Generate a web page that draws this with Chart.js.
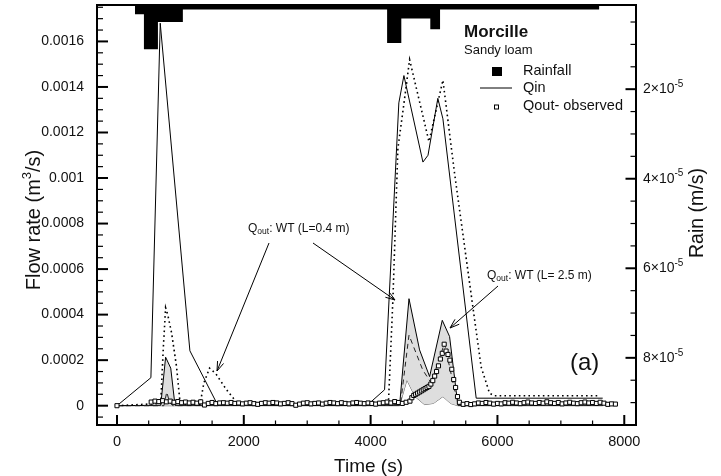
<!DOCTYPE html>
<html>
<head>
<meta charset="utf-8">
<script src="https://cdn.jsdelivr.net/npm/chart.js@4.4.1/dist/chart.umd.min.js"></script>
<style>
  html, body { margin: 0; padding: 0; background: #fff; }
  #wrap { width: 721px; height: 476px; }
</style>
</head>
<body>
<div id="wrap"><canvas id="flowChart" width="721" height="476"></canvas></div>
<script>
// rainfall steps (time of step start, rain in m/s)
const rainT = [283, 425, 646, 1039, 4260, 4484, 4941, 5095, 7607];
const rainV = [3.28e-6, 1.11e-5, 4.99e-6, 2.23e-6, 9.68e-6, 4.24e-6, 6.62e-6, 2.23e-6, 2.23e-6];

// Qin (solid)
const qinT = [0, 535, 682, 1150, 1585, 2500, 3950, 4220, 4445, 4525, 4825, 4905, 5060, 5140, 5665, 7660];
const qinV = [0, 1.23e-4, 1.68e-3, 2.41e-4, 5e-6, 3e-6, 3e-6, 7.0e-5, 1.33e-3, 1.45e-3, 1.07e-3, 1.10e-3, 1.35e-3, 1.26e-3, 3.3e-5, 3.3e-5];

// Qout WT L=0.4 m (dotted)
const wt04T = [0, 690, 729, 767, 800, 861, 940, 992, 1050, 1310, 1370, 1460, 1560, 1727, 1900, 2000, 4280, 4352, 4430, 4536, 4615, 4920, 5140, 5324, 5560, 5743, 5875, 5950, 7620];
const wt04V = [0, 1e-5, 2.45e-4, 4.3e-4, 4.0e-4, 3.2e-4, 1.7e-4, 2e-5, 5e-6, 5e-6, 1.0e-4, 1.65e-4, 1.4e-4, 7e-5, 1e-5, 5e-6, 5e-6, 4.7e-4, 1.13e-3, 1.35e-3, 1.52e-3, 1.16e-3, 1.43e-3, 1.02e-3, 5.4e-4, 1.7e-4, 5.5e-5, 4.4e-5, 4.4e-5];

// Qout WT L=2.5 m band: upper edge, lower edge, dashed middle
const wt25T = [0, 690, 767, 848, 915, 4457, 4605, 4772, 4930, 5130, 5245, 5376, 7660];
const wt25V = [0, 2e-6, 2.13e-4, 1.65e-4, 2e-6, 2e-6, 4.7e-4, 2.45e-4, 1.28e-4, 3.75e-4, 3.04e-4, 2e-6, 2e-6];
const wtLowT = [0, 4457, 4572, 4700, 4850, 4990, 5140, 5260, 5376, 7660];
const wtLowV = [0, 0, 1.13e-4, 4e-5, 5e-6, 1e-5, 4e-5, 1e-5, 0, 0];
const wtDashT = [0, 740, 785, 830, 880, 4470, 4605, 4822, 4955, 5165, 5323, 5400, 7660];
const wtDashV = [0, 0, 6e-5, 1.5e-5, 0, 5e-6, 3.1e-4, 1.57e-4, 1.0e-4, 2.74e-4, 7e-5, 2e-6, 2e-6];

// Qout observed (squares)
const obsT = [0, 540, 600, 660, 720, 780, 840, 900, 960, 1020, 1080, 1140, 1200, 1260, 1320, 1380, 1440, 1500, 1560, 1620,
  1680, 1740, 1800, 1860, 1920, 1980, 2040, 2100, 2160, 2220, 2280, 2340, 2400, 2460, 2520, 2580, 2640, 2700, 2760, 2820,
  2880, 2940, 3000, 3060, 3120, 3180, 3240, 3300, 3360, 3420, 3480, 3540, 3600, 3660, 3720, 3780, 3840, 3900, 3960, 4020,
  4080, 4140, 4200, 4260, 4320, 4380, 4440, 4500, 4560, 4620, 4650, 4680, 4710, 4740, 4770, 4800, 4830, 4860, 4890, 4920,
  4950, 4980, 5010, 5040, 5070, 5100, 5130, 5160, 5190, 5220, 5250, 5280, 5310, 5340, 5370, 5400, 5460, 5520, 5580, 5640,
  5700, 5760, 5820, 5880, 5940, 6000, 6060, 6120, 6180, 6240, 6300, 6360, 6420, 6480, 6540, 6600, 6660, 6720, 6780, 6840,
  6900, 6960, 7020, 7080, 7140, 7200, 7260, 7320, 7380, 7440, 7500, 7560, 7620, 7680, 7740, 7800, 7860];
const obsQ = [0, 1.6e-5, 2.0e-5, 1.8e-5, 2.2e-5, 1.7e-5, 2.0e-5, 1.5e-5, 1.8e-5, 1.3e-5, 1.6e-5, 1.2e-5, 1.5e-5, 1.1e-5, 1.7e-5, 0.3e-5, 1.0e-5, 1.4e-5, 0.9e-5, 1.2e-5,
  1.3e-5, 1.1e-5, 1.4e-5, 1.0e-5, 1.2e-5, 0.8e-5, 1.1e-5, 1.3e-5, 0.9e-5, 0.6e-5, 1.0e-5, 1.3e-5, 1.1e-5, 1.4e-5, 1.2e-5, 0.8e-5, 1.0e-5, 1.3e-5, 0.9e-5, 0.2e-5,
  0.7e-5, 1.1e-5, 1.3e-5, 0.8e-5, 1.0e-5, 1.2e-5, 0.7e-5, 1.1e-5, 1.4e-5, 1.2e-5, 0.9e-5, 1.3e-5, 1.0e-5, 0.8e-5, 1.2e-5, 1.4e-5, 1.1e-5, 0.9e-5, 1.2e-5, 1.0e-5,
  0.7e-5, 1.1e-5, 1.3e-5, 1.6e-5, 1.2e-5, 1.8e-5, 1.4e-5, 1.0e-5, 1.5e-5, 2.0e-5, 3.5e-5, 4.5e-5, 5.0e-5, 5.5e-5, 6.0e-5, 6.5e-5, 7.0e-5, 7.5e-5, 8.0e-5, 8.5e-5,
  9.5e-5, 1.1e-4, 1.3e-4, 1.5e-4, 1.75e-4, 2.05e-4, 2.3e-4, 2.7e-4, 2.4e-4, 2.25e-4, 2.0e-4, 1.6e-4, 1.15e-4, 8.0e-5, 4.0e-5, 1.5e-5, 0.6e-5, 0.9e-5, 0.5e-5, 0.8e-5,
  1.2e-5, 1.0e-5, 1.4e-5, 1.1e-5, 0.7e-5, 1.0e-5, 0.8e-5, 1.3e-5, 1.1e-5, 1.5e-5, 1.2e-5, 0.9e-5, 1.3e-5, 1.6e-5, 1.2e-5, 1.0e-5, 1.4e-5, 1.1e-5, 1.7e-5, 1.3e-5,
  1.0e-5, 1.4e-5, 0.8e-5, 1.2e-5, 1.5e-5, 1.1e-5, 0.9e-5, 1.3e-5, 1.6e-5, 1.2e-5, 1.4e-5, 1.0e-5, 1.5e-5, 1.1e-5, 0.6e-5, 0.8e-5, 0.7e-5];

// axis ticks
const xTicks = [0, 2000, 4000, 6000, 8000];
const yTicks = [0, 0.0002, 0.0004, 0.0006, 0.0008, 0.001, 0.0012, 0.0014, 0.0016];
const rainTicks = [2e-5, 4e-5, 6e-5, 8e-5];
const rainTickLabels = ['2', '4', '6', '8'];

const FONT = 'Liberation Sans, Arial, Helvetica, sans-serif';
const INK = '#111';

function pts(ts, vs) {
     return ts.map((t, i) => ({ x: t, y: vs[i] }));
}

// draw text pieces one after the other (for sub/superscripts)
function richWidth(ctx, parts) {
     let w = 0;
     parts.forEach(p => {
          ctx.font = `${p.bold ? 'bold ' : ''}${p.size}px ${FONT}`;
          w += ctx.measureText(p.text).width;
     });
     return w;
}

function drawRich(ctx, parts, x, y) {
     ctx.textBaseline = 'middle';
     ctx.textAlign = 'left';
     parts.forEach(p => {
          ctx.font = `${p.bold ? 'bold ' : ''}${p.size}px ${FONT}`;
          ctx.fillText(p.text, x, y + (p.dy || 0));
          x += ctx.measureText(p.text).width;
     });
}

function drawArrow(ctx, x1, y1, x2, y2) {
     const a = Math.atan2(y2 - y1, x2 - x1);
     const len = 10;
     ctx.beginPath();
     ctx.moveTo(x1, y1);
     ctx.lineTo(x2, y2);
     ctx.moveTo(x2 - len * Math.cos(a - 0.33), y2 - len * Math.sin(a - 0.33));
     ctx.lineTo(x2, y2);
     ctx.lineTo(x2 - len * Math.cos(a + 0.33), y2 - len * Math.sin(a + 0.33));
     ctx.stroke();
}

// keep the plot box where the reference has it
function noPad(s) {
     s.paddingTop = 0;
     s.paddingBottom = 0;
     s.paddingLeft = 0;
     s.paddingRight = 0;
}

const decorPlugin = {
     id: 'decor',
     afterDraw(chart) {
          const ctx = chart.ctx;
          const area = chart.chartArea;
          const sx = chart.scales.x, sy = chart.scales.y, sr = chart.scales.yR;
          ctx.save();
          ctx.strokeStyle = '#000';
          ctx.fillStyle = INK;

          // frame
          ctx.lineWidth = 2;
          ctx.strokeRect(area.left, area.top, area.right - area.left, area.bottom - area.top);

          // inward ticks
          function tick(x1, y1, x2, y2, w) {
               ctx.lineWidth = w;
               ctx.beginPath();
               ctx.moveTo(x1, y1);
               ctx.lineTo(x2, y2);
               ctx.stroke();
          }
          for (let t = 0; t <= 8000; t += 500) {
               const px = sx.getPixelForValue(t);
               const major = t % 2000 === 0;
               tick(px, area.bottom, px, area.bottom - (major ? 10 : 4.5), major ? 2 : 1.2);
          }
          for (let k = -1; k <= 35; k++) {
               const py = sy.getPixelForValue(k * 0.00005);
               if (py < area.top + 1 || py > area.bottom - 1) continue;
               const major = k % 4 === 0 && k >= 0;
               tick(area.left, py, area.left + (major ? 11 : 6), py, major ? 2 : 1.2);
          }
          for (let k = 1; k <= 19; k++) {
               const py = sr.getPixelForValue(k * 5e-6);
               if (py < area.top + 1 || py > area.bottom - 1) continue;
               const major = k % 4 === 0;
               tick(area.right, py, area.right - (major ? 10.5 : 5.5), py, major ? 2 : 1.2);
          }

          // right axis labels  n×10^-5
          rainTicks.forEach((v, i) => {
               const py = sr.getPixelForValue(v);
               drawRich(ctx, [
                    { text: rainTickLabels[i] + '\u00d710', size: 14 },
                    { text: '-5', size: 10, dy: -5 }
               ], area.right + 7, py);
          });

          // axis titles
          ctx.textAlign = 'center';
          ctx.textBaseline = 'middle';
          ctx.font = `19px ${FONT}`;
          ctx.fillText('Time (s)', (area.left + area.right) / 2 + 2, 467);

          const flowParts = [
               { text: 'Flow rate (m', size: 20 },
               { text: '3', size: 13, dy: -7 },
               { text: '/s)', size: 20 }
          ];
          ctx.save();
          ctx.translate(34, 220);
          ctx.rotate(-Math.PI / 2);
          drawRich(ctx, flowParts, -richWidth(ctx, flowParts) / 2, 0);
          ctx.restore();

          ctx.save();
          ctx.translate(698, 213);
          ctx.rotate(-Math.PI / 2);
          ctx.textAlign = 'center';
          ctx.textBaseline = 'middle';
          ctx.font = `19.5px ${FONT}`;
          ctx.fillText('Rain (m/s)', 0, 0);
          ctx.restore();

          // title and legend
          drawRich(ctx, [{ text: 'Morcille', size: 17, bold: true }], 464, 32);
          drawRich(ctx, [{ text: 'Sandy loam', size: 13 }], 464, 50);
          ctx.fillStyle = '#000';
          ctx.fillRect(492, 67, 10, 9);
          ctx.fillStyle = INK;
          drawRich(ctx, [{ text: 'Rainfall', size: 14.5 }], 523, 71);
          tick(480, 88, 512, 88, 1);
          drawRich(ctx, [{ text: 'Qin', size: 14.5 }], 523, 88);
          ctx.lineWidth = 1;
          ctx.strokeRect(494.5, 105, 4, 4);
          drawRich(ctx, [{ text: 'Qout- observed', size: 14.5 }], 523, 106);

          // annotations
          drawRich(ctx, [
               { text: 'Q', size: 12 },
               { text: 'out', size: 8.5, dy: 3 },
               { text: ': WT (L=0.4 m)', size: 12 }
          ], 248, 229);
          ctx.lineWidth = 1;
          drawArrow(ctx, 269, 243, 217, 371);
          drawArrow(ctx, 313, 243, 395, 300);

          drawRich(ctx, [
               { text: 'Q', size: 12 },
               { text: 'out', size: 8.5, dy: 3 },
               { text: ': WT (L= 2.5 m)', size: 12 }
          ], 487, 276);
          drawArrow(ctx, 498, 286, 450, 328);

          drawRich(ctx, [{ text: '(a)', size: 24 }], 570, 363);
          ctx.restore();
     }
};

const ctx = document.getElementById('flowChart').getContext('2d');
window.flowChart = new Chart(ctx, {
     type: 'line',
     data: {
          datasets: [
               {
                    label: 'Qout- observed',
                    data: pts(obsT, obsQ),
                    showLine: false,
                    pointStyle: 'rect',
                    pointRadius: 2.9,
                    borderWidth: 1,
                    borderColor: '#000',
                    backgroundColor: '#fff'
               },
               {
                    label: 'Qin',
                    data: pts(qinT, qinV),
                    borderColor: '#000',
                    borderWidth: 1
               },
               {
                    label: 'WT L=0.4 m',
                    data: pts(wt04T, wt04V),
                    borderColor: '#000',
                    borderWidth: 1.6,
                    borderDash: [1.6, 3.2]
               },
               {
                    label: 'WT dashed',
                    data: pts(wtDashT, wtDashV),
                    borderColor: '#222',
                    borderWidth: 1,
                    borderDash: [5, 4]
               },
               {
                    label: 'WT L=2.5 m',
                    data: pts(wt25T, wt25V),
                    borderColor: '#000',
                    borderWidth: 1,
                    fill: '+1',
                    backgroundColor: '#dedede'
               },
               {
                    label: 'WT lower',
                    data: pts(wtLowT, wtLowV),
                    borderColor: '#333',
                    borderWidth: 0.8
               },
               {
                    label: 'Rainfall',
                    data: pts(rainT, rainV),
                    yAxisID: 'yR',
                    stepped: 'before',
                    fill: { value: 0 },
                    backgroundColor: '#000',
                    borderColor: '#000',
                    borderWidth: 0
               }
          ]
     },
     options: {
          responsive: false,
          animation: false,
          devicePixelRatio: 1,
          events: [],
          layout: { padding: { top: 5 } },
          elements: {
               point: { radius: 0 },
               line: { tension: 0 }
          },
          plugins: {
               legend: { display: false },
               tooltip: { enabled: false }
          },
          scales: {
               x: {
                    type: 'linear',
                    min: -315,
                    max: 8185,
                    grid: { display: false },
                    border: { display: false },
                    afterBuildTicks: s => { s.ticks = xTicks.map(v => ({ value: v })); },
                    afterFit: s => { s.height = 51; noPad(s); },
                    ticks: {
                         autoSkip: false,
                         maxRotation: 0,
                         padding: 0,
                         color: INK,
                         font: { family: FONT, size: 14.5 },
                         callback: v => String(v)
                    }
               },
               y: {
                    position: 'left',
                    min: -0.0000848,
                    max: 0.00176,
                    grid: { display: false },
                    border: { display: false },
                    afterBuildTicks: s => { s.ticks = yTicks.map(v => ({ value: v })); },
                    afterFit: s => { s.width = 97; noPad(s); },
                    ticks: {
                         padding: 5,
                         color: INK,
                         font: { family: FONT, size: 14 },
                         callback: v => String(+v.toFixed(4))
                    }
               },
               yR: {
                    position: 'right',
                    reverse: true,
                    min: 1.2e-6,
                    max: 9.5e-5,
                    grid: { display: false },
                    border: { display: false },
                    ticks: { display: false },
                    afterFit: s => { s.width = 85; noPad(s); }
               }
          }
     },
     plugins: [decorPlugin]
});
</script>
</body>
</html>
